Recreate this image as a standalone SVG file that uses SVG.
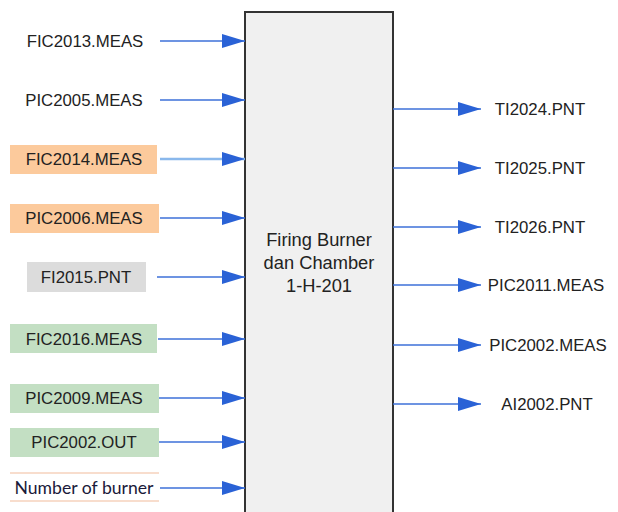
<svg xmlns="http://www.w3.org/2000/svg" width="618" height="512" viewBox="0 0 618 512">
<defs>
<marker id="arr" markerWidth="23" markerHeight="14" refX="23" refY="7" orient="auto" markerUnits="userSpaceOnUse">
<path d="M0,0 L23,7 L0,14 Z" fill="#2a62d6"/>
</marker>
<style>
text{font-family:"Liberation Sans",Arial,sans-serif;font-size:16.8px;fill:#222;text-anchor:middle;dominant-baseline:central}
.c{stroke:#3c70d8;stroke-width:1.6;fill:none}
.cl{stroke:#8ab8ec;stroke-width:2.5;fill:none}
.or{fill:#fcca9c}
.gr{fill:#dcdcdc}
.gn{fill:#c3dfc3}
.box{fill:#f0f0f0;stroke:#333;stroke-width:2}
.m{font-size:18.3px}
</style>
</defs>
<rect width="618" height="512" fill="#fff"/>
<g id="main">
<rect class="box" x="245" y="12" width="148" height="510"/>
<text class="m" x="319" y="239">Firing Burner</text>
<text class="m" x="319" y="262">dan Chamber</text>
<text class="m" x="319" y="285">1-H-201</text>
</g>
<g id="in1"><text x="85" y="41">FIC2013.MEAS</text></g>
<g id="in2"><text x="84" y="100">PIC2005.MEAS</text></g>
<g id="in3"><rect class="or" x="10" y="145" width="147" height="29"/><text x="84" y="159">FIC2014.MEAS</text></g>
<g id="in4"><rect class="or" x="10" y="204" width="149" height="29"/><text x="84" y="218">PIC2006.MEAS</text></g>
<g id="in5"><rect class="gr" x="27" y="262" width="119" height="30"/><text x="86" y="277">FI2015.PNT</text></g>
<g id="in6"><rect class="gn" x="10" y="324" width="147" height="29"/><text x="84" y="339">FIC2016.MEAS</text></g>
<g id="in7"><rect class="gn" x="10" y="384" width="149" height="29"/><text x="84" y="398">PIC2009.MEAS</text></g>
<g id="in8"><rect class="gn" x="10" y="428" width="149" height="29"/><text x="84" y="442">PIC2002.OUT</text></g>
<g id="in9"><line x1="10" y1="473" x2="159" y2="473" stroke="#f6d2bd" stroke-width="1.5"/><line x1="10" y1="501" x2="159" y2="501" stroke="#f6d2bd" stroke-width="1.5"/><text x="84" y="487" style="font-family:Lato,'Liberation Sans',sans-serif;font-size:17.6px;fill:#1a1a3a">Number of burner</text></g>
<g id="out1"><text x="540" y="109">TI2024.PNT</text></g>
<g id="out2"><text x="540" y="168">TI2025.PNT</text></g>
<g id="out3"><text x="540" y="227">TI2026.PNT</text></g>
<g id="out4"><text x="546" y="285">PIC2011.MEAS</text></g>
<g id="out5"><text x="548" y="345">PIC2002.MEAS</text></g>
<g id="out6"><text x="547" y="404">AI2002.PNT</text></g>
<g id="connectors">
<line class="c" x1="160" y1="41" x2="245" y2="41" marker-end="url(#arr)"/>
<line class="c" x1="160" y1="100" x2="245" y2="100" marker-end="url(#arr)"/>
<line class="cl" x1="160" y1="159" x2="245" y2="159" marker-end="url(#arr)"/>
<line class="c" x1="160" y1="218" x2="245" y2="218" marker-end="url(#arr)"/>
<line class="c" x1="157" y1="277" x2="245" y2="277" marker-end="url(#arr)"/>
<line class="c" x1="158" y1="339" x2="245" y2="339" marker-end="url(#arr)"/>
<line class="c" x1="159" y1="398" x2="245" y2="398" marker-end="url(#arr)"/>
<line class="c" x1="159" y1="442" x2="245" y2="442" marker-end="url(#arr)"/>
<line class="c" x1="160" y1="488" x2="245" y2="488" marker-end="url(#arr)"/>
<line class="c" x1="393" y1="109" x2="481" y2="109" marker-end="url(#arr)"/>
<line class="c" x1="393" y1="168" x2="481" y2="168" marker-end="url(#arr)"/>
<line class="c" x1="393" y1="227" x2="481" y2="227" marker-end="url(#arr)"/>
<line class="c" x1="393" y1="285" x2="481" y2="285" marker-end="url(#arr)"/>
<line class="c" x1="393" y1="345" x2="481" y2="345" marker-end="url(#arr)"/>
<line class="c" x1="393" y1="404" x2="481" y2="404" marker-end="url(#arr)"/>
</g>
</svg>
